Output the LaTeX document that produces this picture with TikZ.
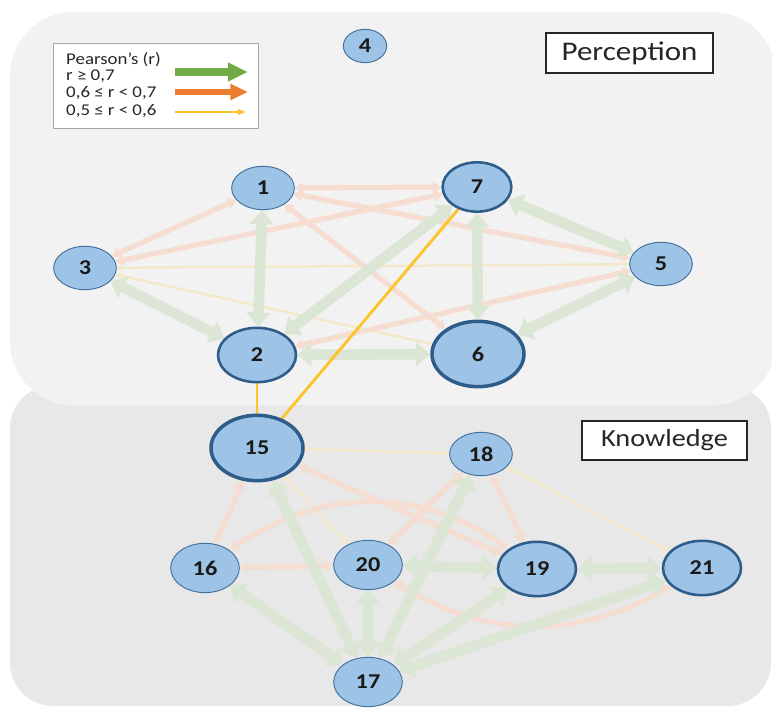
\documentclass[tikz,border=0pt]{standalone}
\usepackage{fontspec}
\setmainfont{Carlito}[FakeStretch=1.15]
\usepackage{tikz}
\usetikzlibrary{arrows.meta,shapes.geometric,backgrounds}
\definecolor{pback}{HTML}{F2F2F2}
\definecolor{kback}{HTML}{E8E8E8}
\definecolor{nodefill}{HTML}{9DC3E6}
\definecolor{nodeline}{HTML}{41719C}
\definecolor{nodedark}{HTML}{2F5D8A}
\definecolor{fgreen}{HTML}{DCE6D4}
\definecolor{forange}{HTML}{F6DDD1}
\definecolor{fyellow}{HTML}{F3E9C8}
\definecolor{hgreen}{HTML}{70AD47}
\definecolor{horange}{HTML}{ED7D31}
\definecolor{hyellow}{HTML}{FCC52E}
\definecolor{ink}{HTML}{262626}

\tikzset{
	var/.style={ellipse,draw=nodeline,fill=nodefill,inner sep=0pt,line width=0.8pt,
		font=\fontsize{18}{18}\selectfont\bfseries,text=black!90},
	vtiny/.style={var,minimum width=1.3cm,minimum height=1.0cm},
	vsmall/.style={var,minimum width=1.88cm,minimum height=1.3cm},
	vmid/.style={var,minimum width=2.06cm,minimum height=1.48cm},
	vbig/.style={var,minimum width=2.34cm,minimum height=1.63cm},
	vhuge/.style={var,minimum width=2.76cm,minimum height=1.96cm},
	rimthick/.style={draw=nodedark,line width=2.2pt},
	rimheavy/.style={draw=nodedark,line width=3pt},
	grn/.style={draw=fgreen,line width=9pt,>={Triangle[width=20pt,length=12pt]},<->},
	org/.style={draw=forange,line width=4.5pt,>={Triangle[width=9pt,length=7pt]},<->},
	ylw/.style={draw=fyellow,line width=2pt,>={Triangle[width=5pt,length=4pt]},<->},
	hot/.style={draw=hyellow,line width=2.5pt},
	tag/.style={draw=ink,line width=1.1pt,fill=white,text=ink,inner sep=0pt},
	legtext/.style={anchor=west,inner sep=0pt,text=ink,font=\fontsize{14}{14}\selectfont},
}

\begin{document}
\begin{tikzpicture}[x=0.03cm,y=0.03cm]
	\useasboundingbox (0,0) rectangle (772,711);

	\node[vtiny] (4) at (365,665) {4};
	\node[vsmall] (1) at (263,523) {1};
	\node[vmid,rimthick] (7) at (477,524) {7};
	\node[vsmall] (3) at (85,443) {3};
	\node[vsmall] (5) at (661,447) {5};
	\node[vbig,rimthick] (2) at (257,356) {2};
	\node[vhuge,rimheavy] (6) at (478,357) {6};

	\node[vhuge,rimheavy] (15) at (257,263) {15};
	\node[vsmall] (18) at (481,257) {18};
	\node[vmid] (16) at (205,143) {16};
	\node[vmid] (20) at (368,146) {20};
	\node[vbig,rimthick] (19) at (537,142) {19};
	\node[vbig,rimthick] (21) at (702,143) {21};
	\node[vmid] (17) at (368,29) {17};

	\node[tag,minimum width=5.01cm,minimum height=1.2cm,font=\fontsize{23}{23}\selectfont] (perc) at (629.5,658) {Perception};
	\node[tag,minimum width=4.95cm,minimum height=1.17cm,font=\fontsize{21}{21}\selectfont] (know) at (664.5,270.5) {Knowledge};

	\node[draw=gray!70,line width=0.8pt,fill=white,minimum width=6.15cm,minimum height=2.55cm,inner sep=0pt] (leg) at (155.5,625.5) {};
	\node[legtext] (lt0) at (66,651) {Pearson’s (r)};
	\node[legtext] (lt1) at (66,635) {r ≥ 0,7};
	\node[legtext] (lt2) at (66,618) {0,6 ≤ r < 0,7};
	\node[legtext] (lt3) at (66,600) {0,5 ≤ r < 0,6};
	\coordinate (ga) at (175,639);
	\coordinate (gb) at (248,639);
	\coordinate (oa) at (175,619);
	\coordinate (ob) at (248,619);
	\coordinate (ya) at (175,599);
	\coordinate (yb) at (246,599);
	\draw[hgreen,line width=6pt,-{Triangle[width=15pt,length=17pt]}] (ga) -- (gb);
	\draw[horange,line width=5pt,-{Triangle[width=13pt,length=15pt]}] (oa) -- (ob);
	\draw[hyellow,line width=1.6pt,-{Triangle[width=5pt,length=7pt]}] (ya) -- (yb);

	\begin{pgfonlayer}{background}
		\fill[kback,rounded corners=1.3cm] (10,5) rectangle (771,326);
		\fill[pback,rounded corners=1.9cm] (10,306) rectangle (776,699);

		\draw[ylw] (3) -- (5);
		\draw[ylw] (3) -- (6);
		\draw[org] (3) -- (1);
		\draw[org] (7) -- (1);
		\draw[org] (3) -- (7);
		\draw[org] (1) -- (5);
		\draw[org] (1) -- (6);
		\draw[org] (2) -- (5);
		\draw[grn] (1) -- (2);
		\draw[grn] (3) -- (2);
		\draw[grn] (7) -- (2);
		\draw[grn] (7) -- (6);
		\draw[grn] (7) -- (5);
		\draw[grn] (5) -- (6);
		\draw[grn] (2) -- (6);

		\draw[ylw] (15) -- (18);
		\draw[ylw] (15) -- (20);
		\draw[ylw] (18) -- (21);
		\draw[org] (15) -- (16);
		\draw[org] (20) -- (16);
		\draw[org] (15) -- (19);
		\draw[org] (16) to[out=35,in=145] (19);
		\draw[org] (20) -- (18);
		\draw[org] (18) -- (19);
		\draw[org] (20) to[out=-32,in=-150] (21);
		\draw[grn] (15) -- (17);
		\draw[grn] (16) -- (17);
		\draw[grn] (20) -- (17);
		\draw[grn] (18) -- (17);
		\draw[grn] (19) -- (17);
		\draw[grn] (21) -- (17);
		\draw[grn] (20) -- (19);
		\draw[grn] (19) -- (21);

		\draw[hot] (7) -- (15);
		\draw[hot] (2) -- (15);
	\end{pgfonlayer}
\end{tikzpicture}
\end{document}
